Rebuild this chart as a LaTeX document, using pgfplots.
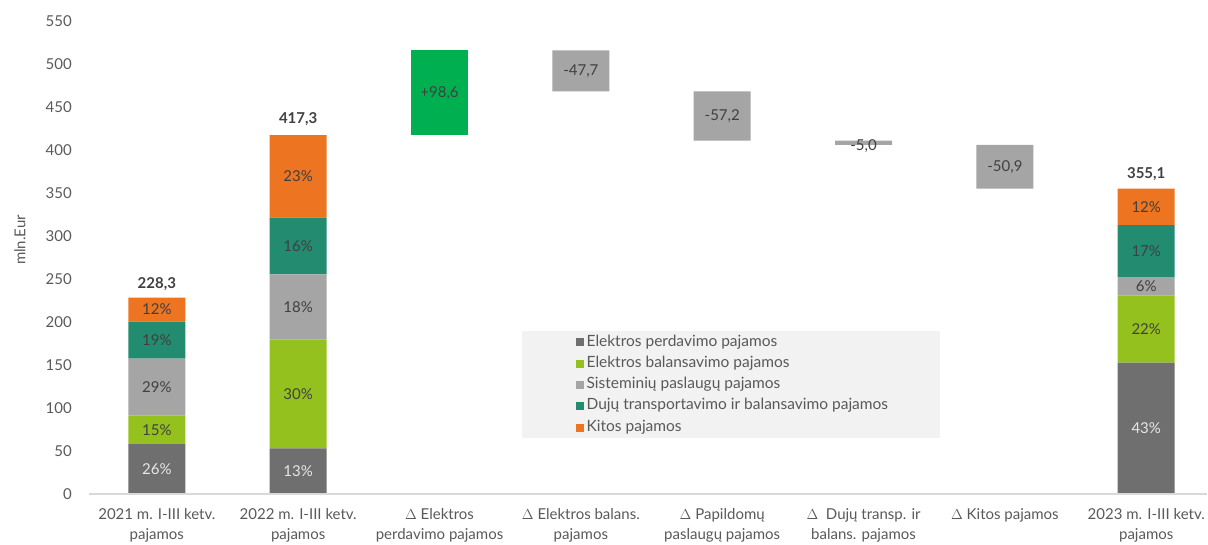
\documentclass[border=0pt]{standalone}
\usepackage{pgfplots}
\pgfplotsset{compat=1.18}
\usepackage{pgfplotstable}
\usepackage{fontspec}
\setmainfont{Lato}
\definecolor{cDark}{HTML}{6F6F6F}
\definecolor{cLime}{HTML}{95C11F}
\definecolor{cGray}{HTML}{A5A5A5}
\definecolor{cTeal}{HTML}{238B70}
\definecolor{cOrange}{HTML}{ED7420}
\definecolor{cUp}{HTML}{00B050}
\definecolor{cLeg}{HTML}{F2F2F2}
\definecolor{cTxt}{HTML}{404040}
\definecolor{cTick}{HTML}{595959}
\definecolor{cAxis}{HTML}{D9D9D9}
\definecolor{cLight}{HTML}{E6E6E6}
\pgfplotstableread{
x base edp ebp sis duj kit up down
0 0     58    33    66.5 43   27.8 0    0
1 0     53    126.5 76   66   95.8 0    0
2 417.3 0     0     0    0    0    98.6 0
3 468.2 0     0     0    0    0    0    47.7
4 411.0 0     0     0    0    0    0    57.2
5 406.0 0     0     0    0    0    0    5.0
6 355.1 0     0     0    0    0    0    50.9
7 0     152.7 78.1  21.3 60.4 42.6 0    0
}\data
\begin{document}
\begin{tikzpicture}
\begin{axis}[
  set layers=standard,
  scale only axis, width=1118pt, height=473pt,
  ybar stacked, bar width=57pt,
  legend image code/.code={\fill[#1] (0pt,-4pt) rectangle (8pt,4pt);},
  xmin=-0.48, xmax=7.43, ymin=0, ymax=550,
  ytick={0,50,...,550},
  xtick={0,...,7},
  xticklabels={{2021 m. I-III ketv.\\pajamos},{2022 m. I-III ketv.\\pajamos},{$\Delta$ Elektros\\perdavimo pajamos},{$\Delta$ Elektros balans.\\pajamos},{$\Delta$ Papildomų\\paslaugų pajamos},{$\Delta$\ \ Dujų transp. ir\\balans. pajamos},{$\Delta$ Kitos pajamos},{2023 m. I-III ketv.\\pajamos}},
  axis lines*=left,
  y axis line style={draw=none},
  x axis line style={draw=cAxis, line width=1.2pt},
  major tick length=0pt,
  /pgf/number format/assume math mode=true,
  yticklabel style={font=\fontsize{15}{18}\selectfont, text=cTick, anchor=east, inner sep=0pt, xshift=-17pt},
  xticklabel style={font=\fontsize{15}{20}\selectfont, text=cTick, align=center, anchor=north, inner sep=0pt, yshift=-14pt},
  legend style={at={(axis cs:2.965,189)}, anchor=north west, fill=none, draw=none,
    font=\fontsize{15.5}{18}\selectfont, text=cTick, inner sep=0pt, column sep=0pt,
    nodes={text height=11pt, text depth=3.5pt, inner ysep=3.4pt, inner xsep=2.5pt}},
  legend cell align=left,
  clip=false,
]
\fill[cLeg] (axis cs:2.58,189.5) rectangle (axis cs:5.54,65);
\addplot[fill=none, draw=none, forget plot, on layer=axis background] table[x=x,y=base]{\data};
\addplot[fill=cDark, draw=none, on layer=axis background] table[x=x,y=edp]{\data};
\addplot[fill=cLime, draw=none, on layer=axis background] table[x=x,y=ebp]{\data};
\addplot[fill=cGray, draw=none, on layer=axis background] table[x=x,y=sis]{\data};
\addplot[fill=cTeal, draw=none, on layer=axis background] table[x=x,y=duj]{\data};
\addplot[fill=cOrange, draw=none, on layer=axis background] table[x=x,y=kit]{\data};
\addplot[fill=cUp, draw=none, forget plot, on layer=axis background] table[x=x,y=up]{\data};
\addplot[fill=cGray, draw=none, forget plot, on layer=axis background] table[x=x,y=down]{\data};
\legend{Elektros perdavimo pajamos, Elektros balansavimo pajamos, Sisteminių paslaugų pajamos, Dujų transportavimo ir balansavimo pajamos, Kitos pajamos}
\node[font=\fontsize{15}{18}\selectfont, text=cLight] at (axis cs:0,29) {26\%};
\node[font=\fontsize{15}{18}\selectfont, text=cTxt] at (axis cs:0,74.5) {15\%};
\node[font=\fontsize{15}{18}\selectfont, text=cTxt] at (axis cs:0,124.25) {29\%};
\node[font=\fontsize{15}{18}\selectfont, text=cTxt] at (axis cs:0,179) {19\%};
\node[font=\fontsize{15}{18}\selectfont, text=cTxt] at (axis cs:0,214.4) {12\%};
\node[font=\fontsize{15}{18}\selectfont, text=cLight] at (axis cs:1,26.5) {13\%};
\node[font=\fontsize{15}{18}\selectfont, text=cTxt] at (axis cs:1,116.25) {30\%};
\node[font=\fontsize{15}{18}\selectfont, text=cTxt] at (axis cs:1,217.5) {18\%};
\node[font=\fontsize{15}{18}\selectfont, text=cTxt] at (axis cs:1,288.5) {16\%};
\node[font=\fontsize{15}{18}\selectfont, text=cTxt] at (axis cs:1,369.4) {23\%};
\node[font=\fontsize{15}{18}\selectfont, text=cLight] at (axis cs:7,76.35) {43\%};
\node[font=\fontsize{15}{18}\selectfont, text=cTxt] at (axis cs:7,191.75) {22\%};
\node[font=\fontsize{15}{18}\selectfont, text=cTxt] at (axis cs:7,241.45) {6\%};
\node[font=\fontsize{15}{18}\selectfont, text=cTxt] at (axis cs:7,282.3) {17\%};
\node[font=\fontsize{15}{18}\selectfont, text=cTxt] at (axis cs:7,333.8) {12\%};
\node[font=\fontsize{15}{18}\selectfont, text=cTxt] at (axis cs:2,466.6) {+98,6};
\node[font=\fontsize{15}{18}\selectfont, text=cTxt] at (axis cs:3,492.05) {-47,7};
\node[font=\fontsize{15}{18}\selectfont, text=cTxt] at (axis cs:4,439.6) {-57,2};
\node[font=\fontsize{15}{18}\selectfont, text=cTxt] at (axis cs:5,404) {-5,0};
\node[font=\fontsize{15}{18}\selectfont, text=cTxt] at (axis cs:6,380.55) {-50,9};
\node[font=\bfseries\fontsize{15}{18}\selectfont, text=cTxt] at (axis cs:0,244) {228,3};
\node[font=\bfseries\fontsize{15}{18}\selectfont, text=cTxt] at (axis cs:1,436.5) {417,3};
\node[font=\bfseries\fontsize{15}{18}\selectfont, text=cTxt] at (axis cs:7,372) {355,1};
\end{axis}
\node[rotate=90, font=\fontsize{15}{18}\selectfont, text=cTick] at (-69pt,254pt) {mln.Eur};
\pgfresetboundingbox
\path (-89pt,-51pt) rectangle (1119pt,494pt);
\end{tikzpicture}
\end{document}
